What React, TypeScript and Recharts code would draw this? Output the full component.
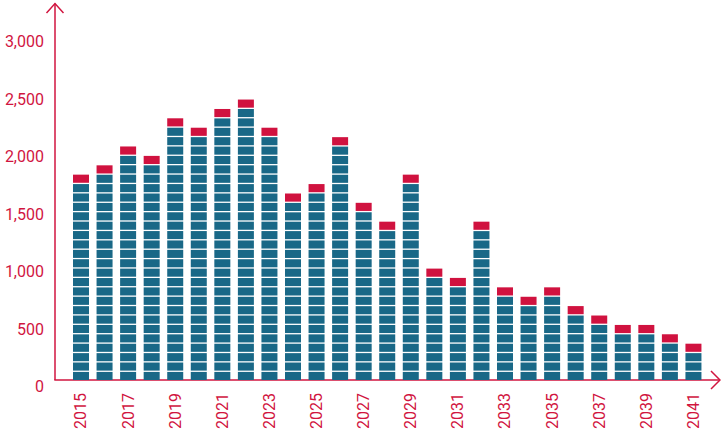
import React from 'react';
import { BarChart, Bar, XAxis, YAxis, Customized } from 'recharts';

const years = [
  '2015', '2016', '2017', '2018', '2019', '2020', '2021', '2022', '2023', '2024',
  '2025', '2026', '2027', '2028', '2029', '2030', '2031', '2032', '2033', '2034',
  '2035', '2036', '2037', '2038', '2039', '2040', '2041',
];
const tealValues = [
  1715, 1796, 1960, 1878, 2205, 2123, 2286, 2368, 2123, 1551,
  1633, 2041, 1470, 1306, 1715, 898, 817, 1306, 735, 653,
  735, 572, 490, 408, 408, 327, 245,
];
const redValues = [
  82, 82, 82, 82, 82, 82, 82, 82, 82, 82,
  82, 82, 82, 82, 82, 82, 82, 82, 82, 82,
  82, 82, 82, 82, 82, 82, 82,
];
const yTicks = [0, 500, 1000, 1500, 2000, 2500, 3000];

const TEAL = '#196887';
const RED = '#d0123f';
const AXIS = '#d1153f';
const SEG = 81.65; // value of one stacked block
const GAP = 1.3;

const data = years.map((year, i) => ({ year, teal: tealValues[i], red: redValues[i] }));

// teal column split into blocks with thin white gaps
const TealShape = (props: any) => {
  const { x, y, width, height, payload } = props;
  if (!height || height <= 0) return null;
  const unitPx = (height / payload.teal) * SEG;
  const n = Math.max(1, Math.round(height / unitPx));
  const seg = height / n;
  const bottom = y + height;
  const rects = [];
  for (let k = 0; k < n; k++) {
    const top = bottom - (k + 1) * seg + GAP;
    rects.push(<rect key={k} x={x} y={top} width={width} height={seg - GAP} fill={TEAL} />);
  }
  return <g>{rects}</g>;
};

const RedShape = (props: any) => {
  const { x, y, width, height } = props;
  if (!height || height <= 0) return null;
  return <rect x={x} y={y + GAP} width={width} height={height - GAP} fill={RED} />;
};

const YTick = (props: any) => {
  const { x, y, payload } = props;
  return (
    <text x={x} y={y} dy={12.4} textAnchor="end" fill={AXIS} fontSize={16} fontFamily="Roboto, sans-serif">
      {payload.value.toLocaleString('en-US')}
    </text>
  );
};

const XTick = (props: any) => {
  const { x, y, payload } = props;
  return (
    <g transform={`translate(${x},${y})`}>
      <text x={0} y={0} dy={5.7} textAnchor="end" transform="rotate(-90)" fill={AXIS} fontSize={16} fontFamily="Roboto, sans-serif">
        {payload.value}
      </text>
    </g>
  );
};

// axis lines with arrow heads
const Axes = () => (
  <g stroke={AXIS} strokeWidth={1.5} fill="none">
    <line x1={55} y1={380} x2={55} y2={3.5} />
    <polyline points="46.5,13 55,3.5 63.5,13" />
    <line x1={54.3} y1={380} x2={720} y2={380} />
    <polyline points="711,371 720,380 711,389" />
  </g>
);

export default function App() {
  return (
    <div style={{ position: 'absolute', left: 0, top: 0 }}>
      <BarChart
        width={721}
        height={438}
        data={data}
        margin={{ top: 35, right: 16, left: 0, bottom: 0 }}
        barSize={16}
      >
        <XAxis
          dataKey="year"
          height={58}
          axisLine={false}
          tickLine={false}
          tickSize={0}
          tickMargin={13}
          interval={1}
          padding={{ left: 14, right: 0 }}
          tick={<XTick />}
        />
        <YAxis
          width={55}
          domain={[0, 3000]}
          ticks={yTicks}
          axisLine={false}
          tickLine={false}
          tickSize={0}
          tickMargin={11}
          tick={<YTick />}
        />
        <Bar dataKey="teal" stackId="a" shape={<TealShape />} isAnimationActive={false} />
        <Bar dataKey="red" stackId="a" shape={<RedShape />} isAnimationActive={false} />
        <Customized component={Axes} />
      </BarChart>
    </div>
  );
}
